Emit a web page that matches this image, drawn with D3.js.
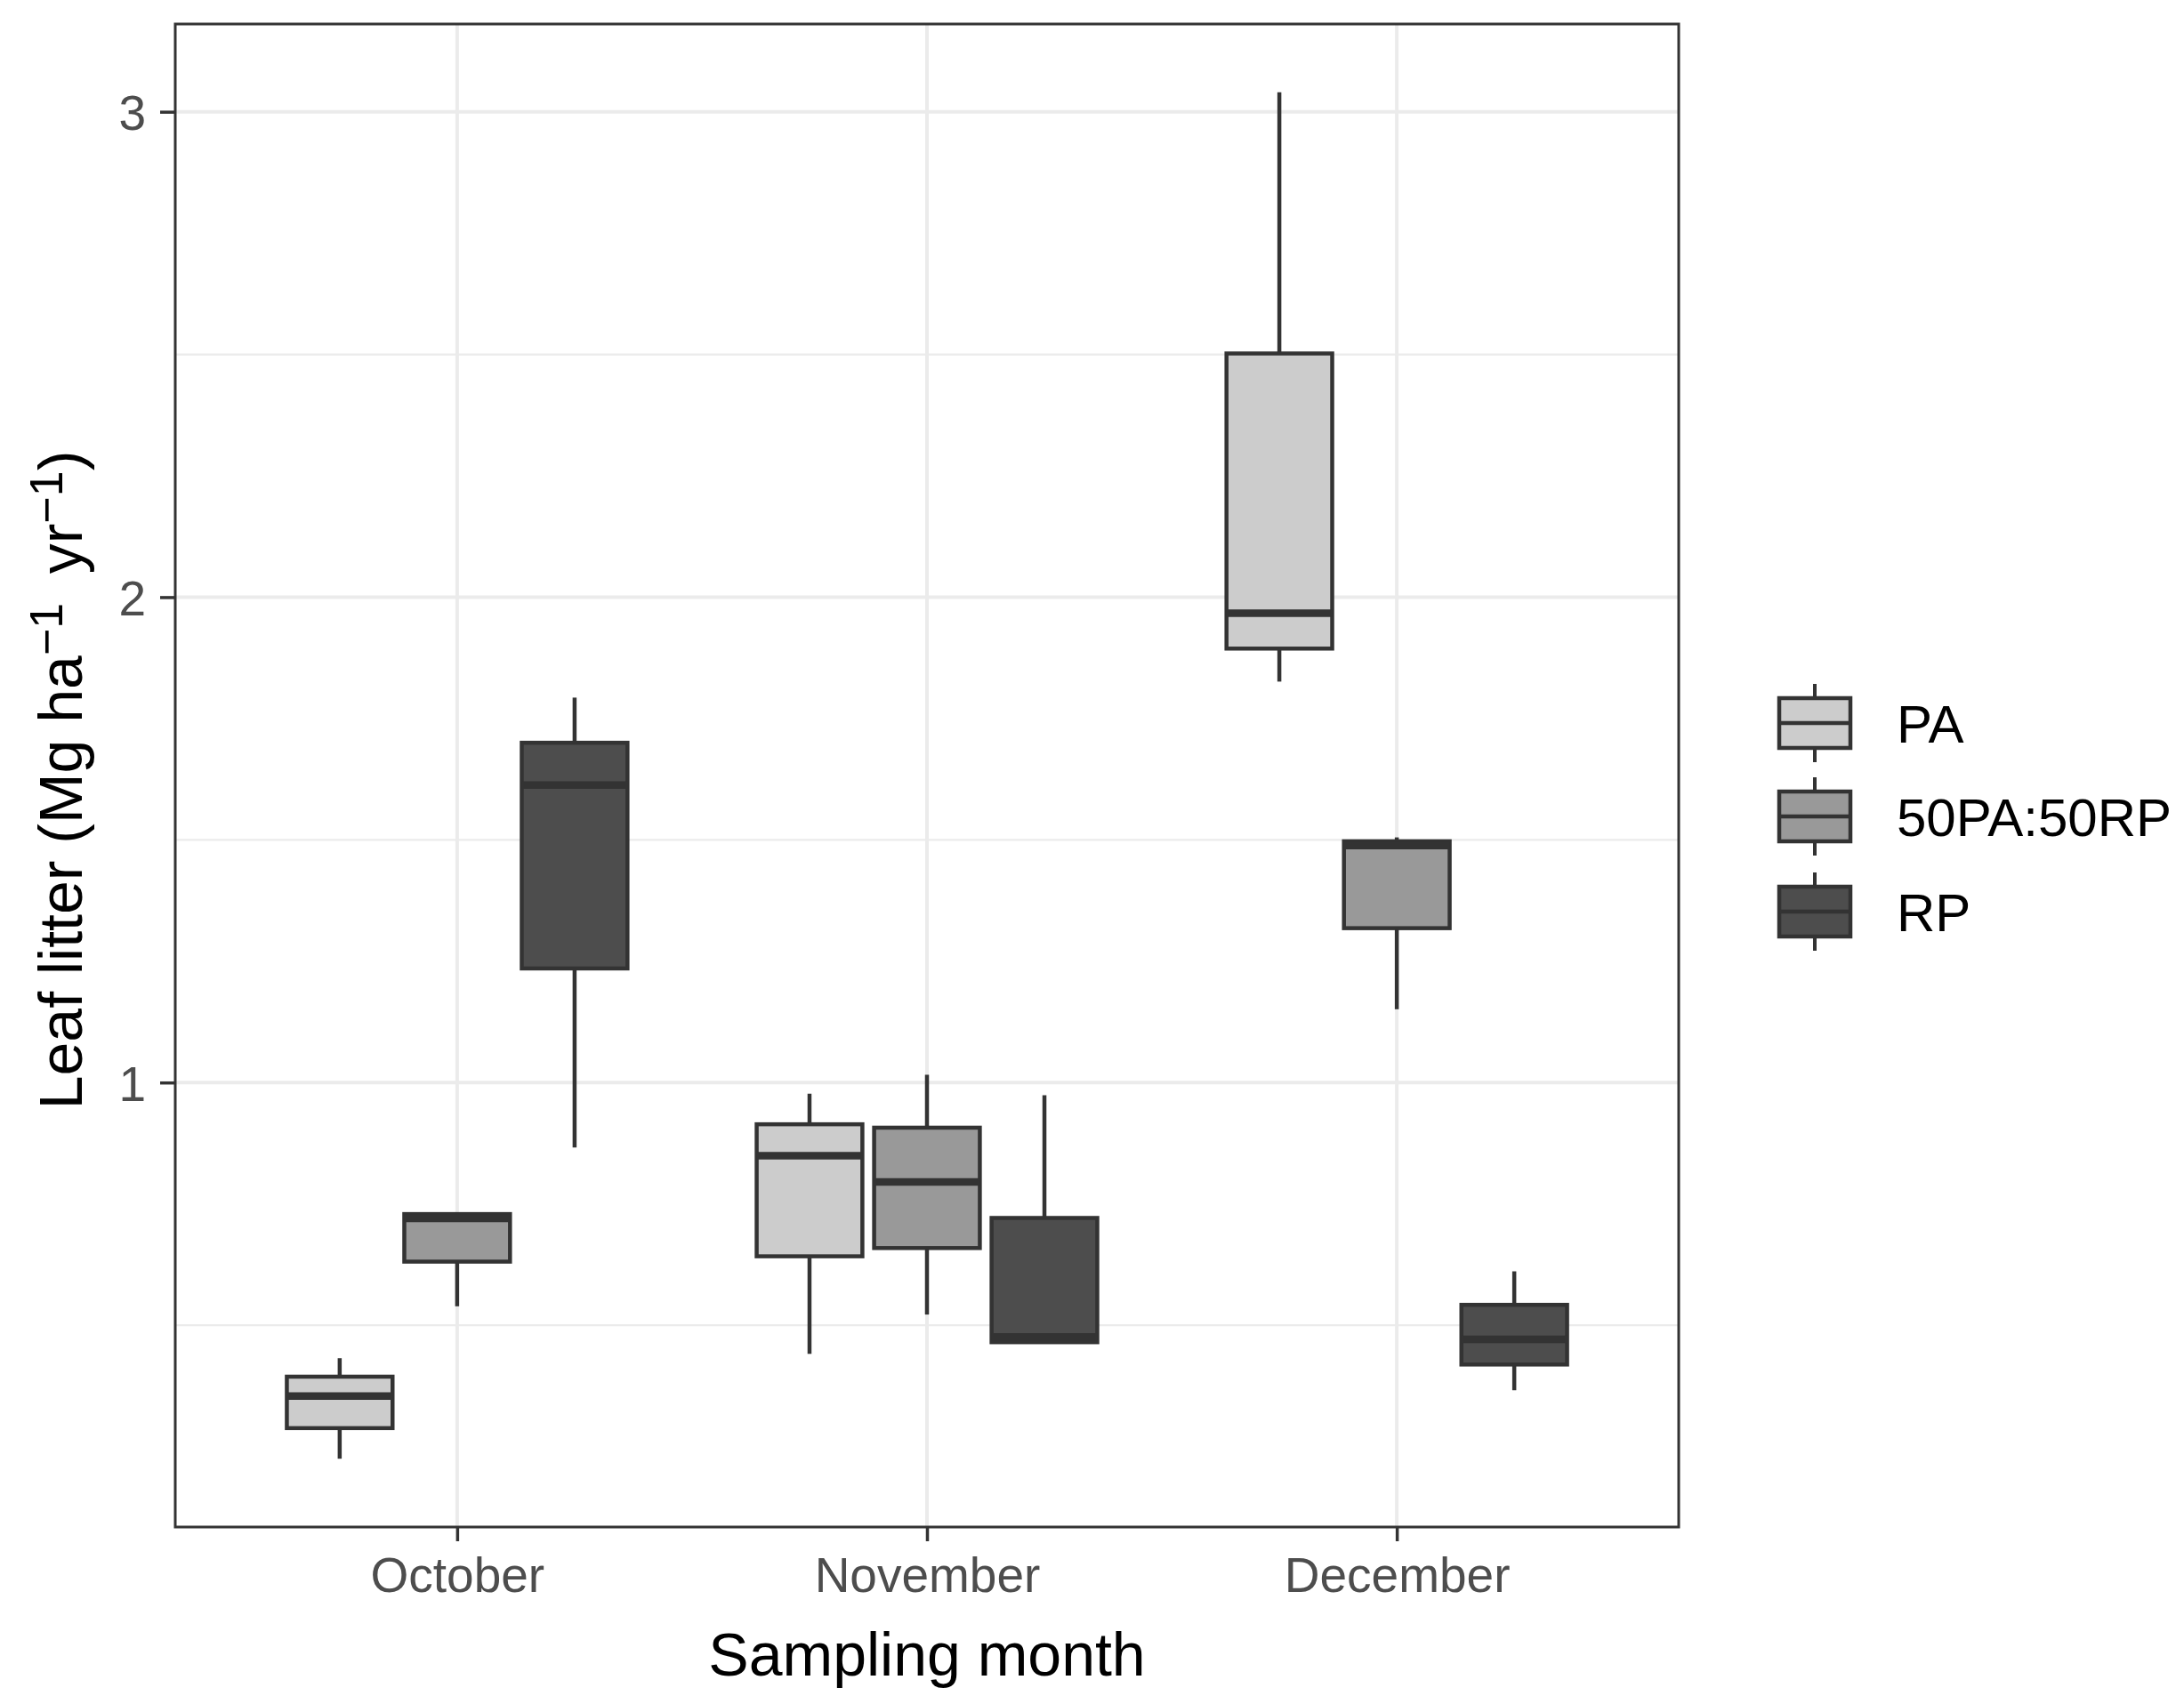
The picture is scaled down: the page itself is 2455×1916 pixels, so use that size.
<html>
<head>
<script src="https://d3js.org/d3.v7.min.js"></script>
<style>
  body { margin: 0; background: #fff; }
  text { font-family: "Liberation Sans", Arial, sans-serif; }
</style>
</head>
<body>
<svg id="chart" width="2455" height="1916"></svg>
<script>
// months on the x axis, treatments dodged inside each month
var months = ["October", "November", "December"];
var treatments = ["PA", "50PA:50RP", "RP"];
var fills = ["#cccccc", "#999999", "#4d4d4d"];

// box statistics, one row per month, one value per treatment (PA, 50PA:50RP, RP)
var whiskerLow  = [[0.225, 0.539, 0.866], [0.441, 0.522, 0.464], [1.826, 1.151, 0.366]];
var q1          = [[0.288, 0.631, 1.235], [0.642, 0.659, 0.465], [1.894, 1.318, 0.419]];
var median      = [[0.354, 0.720, 1.613], [0.849, 0.795, 0.476], [1.967, 1.488, 0.471]];
var q3          = [[0.394, 0.729, 1.700], [0.914, 0.907, 0.721], [2.502, 1.497, 0.542]];
var whiskerHigh = [[0.432, 0.731, 1.793], [0.977, 1.016, 0.974], [3.040, 1.505, 0.611]];

var yTicks = [1, 2, 3];
var yMinor = [0.5, 1.5, 2.5];

var svg = d3.select("#chart");
var panel = { left: 197, top: 27, right: 1887, bottom: 1717 };

// flat list of boxes
var boxes = [];
months.forEach(function(m, i) {
  treatments.forEach(function(t, j) {
    boxes.push({ month: m, mi: i, ti: j, lo: whiskerLow[i][j], q1: q1[i][j],
                 med: median[i][j], q3: q3[i][j], hi: whiskerHigh[i][j] });
  });
});

// ggplot style expansion of 5% on the continuous axis, 0.6 on the discrete one
var ext = [d3.min(boxes, function(d) { return d.lo; }), d3.max(boxes, function(d) { return d.hi; })];
var pad = (ext[1] - ext[0]) * 0.05;
var y = d3.scaleLinear().domain([ext[0] - pad, ext[1] + pad]).range([panel.bottom, panel.top]);
var x = d3.scaleLinear().domain([-0.6, months.length - 1 + 0.6]).range([panel.left, panel.right]);
var dodge = 0.25, boxW = 0.225;

// grid
var g = svg.append("g");
g.append("rect").attr("x", panel.left).attr("y", panel.top)
  .attr("width", panel.right - panel.left).attr("height", panel.bottom - panel.top)
  .attr("fill", "#fff");
g.selectAll(".minor").data(yMinor).enter().append("line")
  .attr("x1", panel.left).attr("x2", panel.right)
  .attr("y1", function(d) { return y(d); }).attr("y2", function(d) { return y(d); })
  .attr("stroke", "#ebebeb").attr("stroke-width", 2.2);
g.selectAll(".major").data(yTicks).enter().append("line")
  .attr("x1", panel.left).attr("x2", panel.right)
  .attr("y1", function(d) { return y(d); }).attr("y2", function(d) { return y(d); })
  .attr("stroke", "#ebebeb").attr("stroke-width", 4);
g.selectAll(".vmajor").data(months).enter().append("line")
  .attr("y1", panel.top).attr("y2", panel.bottom)
  .attr("x1", function(d, i) { return x(i); }).attr("x2", function(d, i) { return x(i); })
  .attr("stroke", "#ebebeb").attr("stroke-width", 4);

// boxes
var bx = svg.append("g").selectAll("g").data(boxes).enter().append("g");
function cx(d) { return x(d.mi + (d.ti - 1) * dodge); }
bx.append("line")
  .attr("x1", cx).attr("x2", cx)
  .attr("y1", function(d) { return y(d.hi); }).attr("y2", function(d) { return y(d.q3); })
  .attr("stroke", "#333").attr("stroke-width", 4.5);
bx.append("line")
  .attr("x1", cx).attr("x2", cx)
  .attr("y1", function(d) { return y(d.q1); }).attr("y2", function(d) { return y(d.lo); })
  .attr("stroke", "#333").attr("stroke-width", 4.5);
bx.append("rect")
  .attr("x", function(d) { return cx(d) - (x(boxW) - x(0)) / 2; })
  .attr("width", x(boxW) - x(0))
  .attr("y", function(d) { return y(d.q3); })
  .attr("height", function(d) { return y(d.q1) - y(d.q3); })
  .attr("fill", function(d) { return fills[d.ti]; })
  .attr("stroke", "#333").attr("stroke-width", 4.5);
bx.append("line")
  .attr("x1", function(d) { return cx(d) - (x(boxW) - x(0)) / 2; })
  .attr("x2", function(d) { return cx(d) + (x(boxW) - x(0)) / 2; })
  .attr("y1", function(d) { return y(d.med); }).attr("y2", function(d) { return y(d.med); })
  .attr("stroke", "#333").attr("stroke-width", 8.5);

// panel border
svg.append("rect").attr("x", panel.left).attr("y", panel.top)
  .attr("width", panel.right - panel.left).attr("height", panel.bottom - panel.top)
  .attr("fill", "none").attr("stroke", "#333").attr("stroke-width", 3);

// axes
var yAxis = svg.append("g").attr("transform", "translate(" + panel.left + ",0)")
  .call(d3.axisLeft(y).tickValues(yTicks).tickFormat(d3.format("d")).tickSize(17).tickPadding(16));
var xAxis = svg.append("g").attr("transform", "translate(0," + panel.bottom + ")")
  .call(d3.axisBottom(x).tickValues(d3.range(months.length))
    .tickFormat(function(i) { return months[i]; }).tickSize(16).tickPadding(18));
[yAxis, xAxis].forEach(function(a) {
  a.select(".domain").remove();
  a.selectAll(".tick line").attr("stroke", "#333").attr("stroke-width", 3.5);
  a.selectAll(".tick text").attr("fill", "#4d4d4d").style("font-size", "55px")
    .style("font-family", "'Liberation Sans', Arial, sans-serif");
});
yAxis.selectAll(".tick text").attr("dy", "0.36em");

// axis titles
svg.append("text").attr("x", (panel.left + panel.right) / 2).attr("y", 1884)
  .attr("text-anchor", "middle").style("font-size", "68px").attr("fill", "#000")
  .text("Sampling month");

var yt = svg.append("text")
  .attr("transform", "translate(92," + ((panel.top + panel.bottom) / 2 + 5) + ") rotate(-90)")
  .attr("text-anchor", "middle").style("font-size", "68px").attr("fill", "#000");
yt.append("tspan").text("Leaf litter (Mg ha");
yt.append("tspan").attr("baseline-shift", "42%").style("font-size", "52px").text("\u22121");
yt.append("tspan").text("\u2009 yr");
yt.append("tspan").attr("baseline-shift", "42%").style("font-size", "52px").text("\u22121");
yt.append("tspan").text(")");

// legend
var keyX = 2040, keyY = [813, 918, 1025];
var lg = svg.append("g").selectAll("g").data(treatments).enter().append("g")
  .attr("transform", function(d, i) { return "translate(" + keyX + "," + keyY[i] + ")"; });
lg.append("line").attr("y1", -44).attr("y2", 44).attr("stroke", "#333").attr("stroke-width", 4);
lg.append("rect").attr("x", -40).attr("y", -28).attr("width", 80).attr("height", 56)
  .attr("fill", function(d, i) { return fills[i]; }).attr("stroke", "#333").attr("stroke-width", 4.5);
lg.append("line").attr("x1", -40).attr("x2", 40).attr("stroke", "#333").attr("stroke-width", 4.5);
lg.append("text").attr("x", 92).attr("dy", "0.36em").style("font-size", "60px")
  .attr("fill", "#000").text(function(d) { return d; });
</script>
</body>
</html>
